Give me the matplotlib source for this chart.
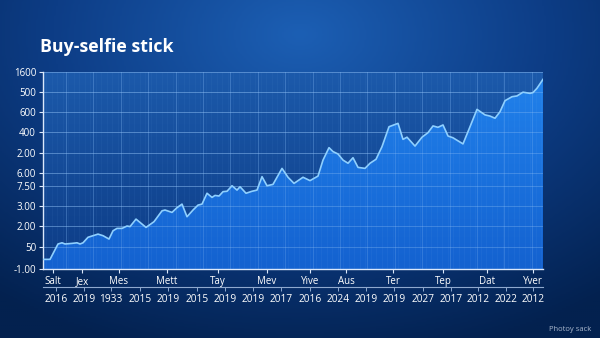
import numpy as np
import matplotlib
matplotlib.use("Agg")
import matplotlib.pyplot as plt
from matplotlib.colors import LinearSegmentedColormap

# series (x = position along the time axis, y = value on a 0-100 scale)
x_pos = [0, 7, 15, 19, 22, 29, 34, 37, 40, 45, 50, 55, 60, 66, 70, 74, 79, 84, 87,
         93, 98, 103, 111, 119, 122, 129, 134, 139, 144, 150, 155, 159, 164, 169,
         172, 176, 180, 184, 189, 194, 197, 203, 209, 214, 219, 224, 230, 239, 245,
         251, 260, 267, 275, 280, 286, 290, 295, 300, 305, 310, 315, 322, 327, 333,
         339, 346, 355, 360, 364, 372, 379, 385, 390, 395, 400, 405, 410, 420, 427,
         434, 442, 447, 452, 457, 462, 469, 474, 480, 487, 490, 494, 500]
y_val = [4.9, 4.9, 12.7, 13.3, 12.7, 13.0, 13.3, 12.7, 13.3, 16.1, 16.9, 17.7, 16.9,
         15.2, 19.4, 20.6, 20.6, 21.8, 21.5, 25.3, 23.2, 21.1, 24.0, 29.5, 29.9, 28.7,
         31.1, 32.9, 26.5, 29.9, 32.4, 32.9, 38.4, 36.3, 37.3, 37.0, 39.2, 39.4, 42.2,
         40.0, 41.7, 38.4, 39.4, 40.0, 46.8, 42.2, 42.9, 51.0, 46.5, 43.4, 46.5, 44.8,
         47.1, 55.2, 61.5, 59.5, 58.3, 55.2, 53.6, 56.4, 51.5, 51.0, 53.6, 55.6, 62.0,
         72.1, 73.8, 65.7, 66.8, 62.3, 66.8, 69.1, 72.5, 71.8, 73.0, 67.4, 66.5, 63.4,
         72.1, 80.9, 78.1, 77.5, 76.4, 79.7, 85.3, 87.3, 87.7, 89.6, 89.0, 89.4, 91.6,
         96.1]

y_ticks = [0, 11.1, 21.9, 32.1, 42.1, 48.5, 58.6, 69.3, 79.4, 89.6, 100]
y_labels = ["-1.00", "50", "2.00", "3.00", "7.50", "6.00", "2.00", "400", "600",
            "500", "1600"]

month_pos = [10, 39, 76, 124, 175, 224, 267, 303, 350, 400, 444, 490]
month_labels = ["Salt", "Jex", "Mes", "Mett", "Tay", "Mev", "Yive", "Aus", "Ter",
                "Tep", "Dat", "Yver"]

year_pos = [13, 41, 68, 97, 125, 154, 182, 210, 238, 267, 295, 323, 351, 380, 408,
            435, 463, 490]
year_labels = ["2016", "2019", "1933", "2015", "2019", "2015", "2019", "2019", "2017",
               "2016", "2024", "2019", "2019", "2027", "2017", "2012", "2022", "2012"]

plt.rcParams['font.family'] = ['Open Sans', 'DejaVu Sans']

fig = plt.figure(figsize=(6, 3.38), dpi=100)

# figure background: radial blue glow
bg = fig.add_axes([0, 0, 1, 1], zorder=0)
gx, gy = np.meshgrid(np.linspace(0, 1, 300), np.linspace(0, 1, 170))
r = np.sqrt(((gx - 0.5) / 0.75) ** 2 + ((gy - 0.1) / 0.9) ** 2)
bg_cmap = LinearSegmentedColormap.from_list("bg", ["#1c5fb4", "#0d3d86", "#03214f"])
bg.imshow(r, cmap=bg_cmap, extent=[0, 1, 0, 1], aspect="auto", origin="upper",
          vmin=0, vmax=1.1)
bg.axis("off")

ax = fig.add_axes([0.0717, 0.204, 0.8333, 0.584], zorder=1)
ax.set_xlim(0, 500)
ax.set_ylim(0, 100)

# plot area background gradient
pa_cmap = LinearSegmentedColormap.from_list("pa", ["#0d3c86", "#1c5aab"])
ax.imshow(np.linspace(0, 1, 100).reshape(-1, 1), cmap=pa_cmap, extent=[0, 500, 0, 100],
          aspect="auto", origin="lower", zorder=0)

# gridlines
for gxp in np.arange(23, 500, 27.4):
    ax.axvline(gxp, color="#7fb4f0", lw=0.6, alpha=0.4, zorder=1)
for gxp in np.arange(3, 500, 5.5):
    ax.axvline(gxp, color="#7fb4f0", lw=0.4, alpha=0.1, zorder=1)
for yt in y_ticks[1:]:
    ax.axhline(yt, color="#8fc0f5", lw=0.7, alpha=0.5, zorder=1)

# gradient area fill clipped to the series
fill = ax.fill_between(x_pos, y_val, 0, color="none", zorder=2)
fill_cmap = LinearSegmentedColormap.from_list("fill", ["#1462d0", "#2182ec"])
grad = ax.imshow(np.linspace(0, 1, 100).reshape(-1, 1), cmap=fill_cmap,
                 extent=[0, 500, 0, 100], aspect="auto", origin="lower", zorder=2)
grad.set_clip_path(fill.get_paths()[0], transform=ax.transData)
for gxp in np.arange(23, 500, 27.4):
    ax.plot([gxp, gxp], [0, 100], color="#9cc8f8", lw=0.5, alpha=0.3, zorder=3,
            clip_path=grad.get_clip_path())
for gxp in np.arange(3, 500, 5.5):
    ax.plot([gxp, gxp], [0, 100], color="#9cc8f8", lw=0.4, alpha=0.1, zorder=3,
            clip_path=grad.get_clip_path())
for yt in y_ticks[1:]:
    ax.plot([0, 500], [yt, yt], color="#9cc8f8", lw=0.6, alpha=0.35, zorder=3,
            clip_path=grad.get_clip_path())
ax.plot(x_pos, y_val, color="#8fd0ff", lw=1.2, zorder=4)

for side in ["top", "right"]:
    ax.spines[side].set_visible(False)
for side in ["left", "bottom"]:
    ax.spines[side].set_color("#dbe8fb")
    ax.spines[side].set_linewidth(1.0)

ax.set_yticks(y_ticks)
ax.set_yticklabels(y_labels)
ax.set_xticks(month_pos)
ax.set_xticklabels(month_labels)
ax.tick_params(axis="both", colors="#dbe8fb", labelcolor="white", labelsize=7,
               length=3, width=0.8, pad=2)

# second row of labels (years) under a separator line
sec = ax.secondary_xaxis(-0.091)
sec.set_xticks(year_pos)
sec.set_xticklabels(year_labels)
sec.spines["bottom"].set_color("#8fa9cf")
sec.spines["bottom"].set_linewidth(0.8)
sec.tick_params(colors="#8fa9cf", labelcolor="white", labelsize=7.3, length=3,
                width=0.7, pad=2)

fig.text(0.067, 0.862, "Buy-selfie stick", color="white", fontsize=12.8,
         fontweight="bold", va="center", ha="left")
fig.text(0.915, 0.026, "Photoy sack", color="#a8b6cc", fontsize=5.5, va="center",
         ha="left")

fig.savefig("out.png", dpi=100)
